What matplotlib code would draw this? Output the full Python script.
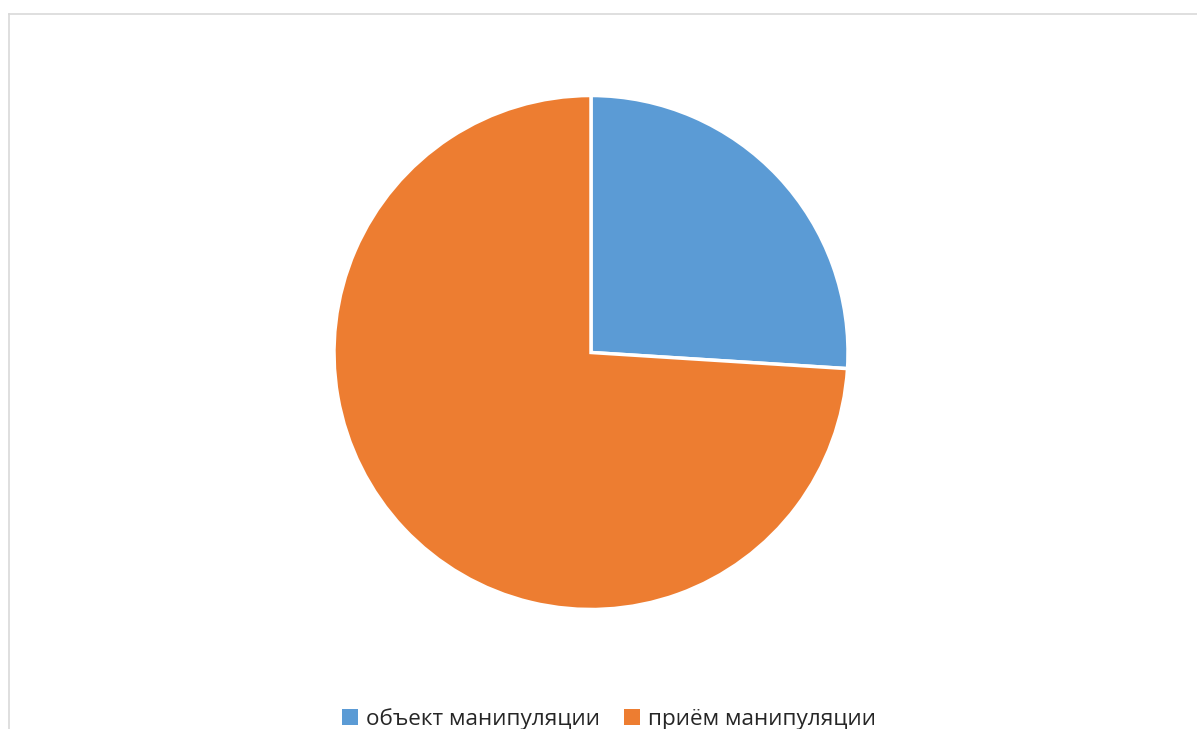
import matplotlib.pyplot as plt
from matplotlib.lines import Line2D
from matplotlib.patches import Patch

labels = ['объект манипуляции', 'приём манипуляции']
values = [26, 74]
colors = ['#5b9bd5', '#ed7d31']

W, H = 1197, 729
fig = plt.figure(figsize=(W / 100, H / 100), dpi=100)
plt.rcParams['font.family'] = ['Open Sans', 'DejaVu Sans']

# pie placed by pixel centre and radius
cx, cy, r = 591, 352.5, 257
ax = fig.add_axes([(cx - r) / W, (H - cy - r) / H, 2 * r / W, 2 * r / H])
ax.pie(values, colors=colors, startangle=90, counterclock=False,
       wedgeprops=dict(edgecolor='white', linewidth=2.5))
ax.set_xlim(-1, 1)
ax.set_ylim(-1, 1)
ax.set_aspect('equal')

# chart area frame (left and top edges)
fig.add_artist(Line2D([8.5 / W, 8.5 / W], [0, 1 - 13.5 / H], color='#d9d9d9', lw=1.2))
fig.add_artist(Line2D([8.5 / W, 1], [1 - 13.5 / H, 1 - 13.5 / H], color='#d9d9d9', lw=1.2))

handles = [Patch(facecolor=c, edgecolor='none') for c in colors]
fig.legend(handles, labels, loc='center', bbox_to_anchor=(609 / W, 1 - 719 / H),
           ncol=2, frameon=False, fontsize=16.2, handlelength=0.7, handleheight=0.7,
           handletextpad=0.35, columnspacing=1.1, labelcolor='#262626',
           borderpad=0)

fig.savefig('out.png', dpi=100)
